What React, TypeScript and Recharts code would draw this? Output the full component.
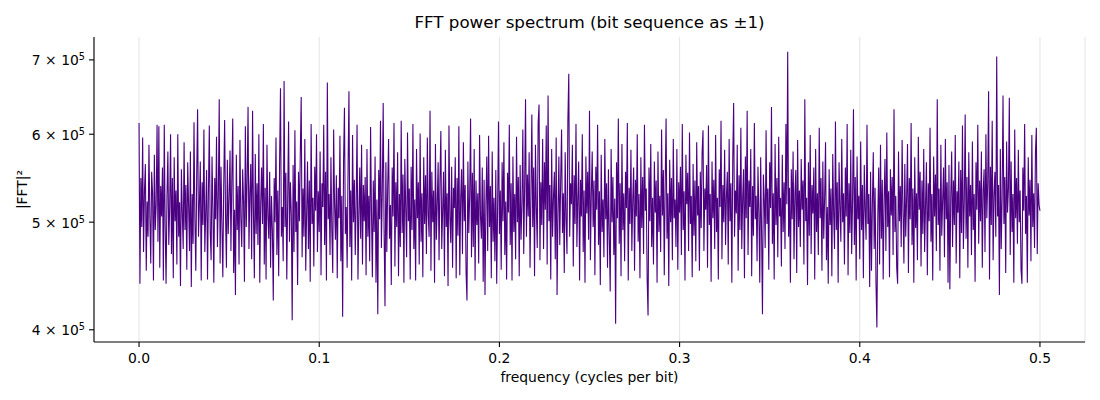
import React from 'react';
import { LineChart, Line, XAxis, YAxis, CartesianGrid } from 'recharts';

// Power values, in thousands (|FFT|² / 1000), one per frequency bin from 0 to 0.5
const POWER_K: number[] = [
  614,440,548,495,596,470,533,564,452,522,485,587,506,459,555,531,443,575,492,518,612,480,610,455,539,
  506,560,443,612,495,440,528,579,477,515,600,468,548,445,572,501,534,458,600,485,521,438,558,510,473,
  590,492,540,453,566,518,471,579,437,530,478,615,503,452,552,632,485,519,567,443,543,497,606,470,510,
  557,444,531,611,490,462,573,515,441,548,503,597,475,528,645,459,561,497,446,540,618,507,455,569,488,
  526,580,471,549,620,450,513,430,575,492,539,458,593,504,475,558,522,442,610,495,546,635,473,530,564,
  463,630,510,445,576,488,542,477,600,441,519,560,498,613,458,537,444,587,506,483,555,455,528,492,425,
  548,500,596,467,534,447,566,660,485,516,461,670,495,554,444,526,616,480,543,509,408,563,470,605,490,
  522,439,555,501,578,648,465,536,485,594,452,509,567,473,545,442,613,498,526,456,561,512,600,470,533,
  490,579,448,542,516,612,477,555,443,668,503,530,467,572,492,450,606,519,482,551,445,537,504,598,461,
  528,411,567,634,488,516,455,558,656,475,534,443,599,500,546,467,521,612,444,507,560,483,587,458,540,
  501,549,448,582,485,528,461,609,510,446,545,490,573,441,524,413,557,503,617,474,533,640,492,420,566,
  470,539,594,483,518,439,560,506,614,456,543,495,578,447,530,475,617,489,552,441,570,515,465,602,501,
  536,444,561,492,613,473,524,443,582,504,543,458,601,480,531,446,572,498,551,468,596,507,485,630,452,
  555,500,534,441,588,482,519,566,462,545,604,473,513,555,447,581,495,531,438,611,506,479,561,455,537,
  515,572,445,548,486,610,448,525,558,468,590,501,540,450,425,567,489,528,620,465,554,475,582,443,545,
  497,531,459,599,506,483,560,442,546,430,519,573,471,598,495,539,445,579,480,526,461,557,440,516,616,
  488,534,453,566,501,590,467,522,444,554,510,612,477,542,443,573,490,530,463,597,500,549,447,563,482,
  519,606,468,539,645,485,552,506,578,455,531,625,495,560,447,587,516,474,614,638,462,543,497,594,473,
  566,513,611,458,650,501,540,444,582,485,526,555,463,596,430,509,573,477,545,606,489,531,450,578,504,
  468,617,680,485,542,519,587,456,551,498,613,475,525,567,443,546,506,600,470,534,441,573,509,555,482,
  630,462,528,579,495,545,448,561,513,612,477,533,439,575,490,524,465,594,503,542,455,558,486,433,582,
  500,549,467,525,405,566,504,620,478,542,447,588,492,531,461,555,515,614,443,537,498,581,471,524,560,
  452,546,506,600,480,530,445,572,494,549,468,612,512,536,444,412,560,501,588,475,526,458,567,510,545,
  441,579,490,528,470,606,507,557,448,540,620,483,531,438,569,500,548,462,594,504,524,475,582,453,543,
  510,561,467,613,492,533,443,575,519,554,471,602,498,528,446,564,486,545,461,590,507,539,452,555,494,
  578,605,471,536,513,563,455,611,497,530,442,567,504,546,473,599,490,526,444,558,516,617,463,540,500,
  581,477,528,555,458,594,501,542,441,569,640,485,534,509,587,452,551,492,608,473,525,558,445,573,504,
  630,467,545,516,582,447,539,486,614,503,528,461,561,510,441,572,489,413,552,524,474,605,498,536,453,
  566,515,635,478,531,444,588,497,548,465,597,506,526,456,575,490,543,473,613,519,712,485,537,441,558,
  503,579,463,530,557,450,593,495,534,475,570,513,545,458,645,501,526,439,566,486,599,468,540,509,560,
  444,582,490,531,467,608,504,548,452,567,483,526,590,462,516,440,558,497,536,447,576,509,473,616,492,
  543,441,566,518,480,594,500,531,458,560,506,613,448,542,489,581,468,524,632,477,549,443,573,503,528,
  463,591,492,540,445,563,515,482,612,498,530,437,555,452,519,578,473,537,441,402,506,560,458,587,483,
  546,444,524,570,471,602,495,533,446,558,507,549,467,632,490,528,455,440,579,501,539,475,593,512,459,
  564,485,526,588,450,548,503,614,477,536,441,572,494,531,462,597,513,555,456,545,488,582,470,519,566,
  448,542,501,608,480,530,443,573,506,552,471,645,497,536,452,587,486,524,560,465,594,503,543,441,563,
  435,528,579,475,545,497,599,459,533,510,567,445,557,489,611,473,522,625,483,549,455,578,506,540,467,
  591,492,530,442,566,513,612,478,545,501,579,455,533,558,470,600,504,542,656,444,561,497,617,462,528,
  555,485,705,506,540,430,582,473,526,650,498,549,450,591,510,536,647,467,567,490,530,441,606,504,548,
  478,581,500,534,453,440,560,512,613,488,528,441,572,507,546,461,599,495,531,474,578,608,468,542,518,
  512,
];

const FREQ_MAX = 0.5; // Nyquist, cycles per bit
const X_TICKS = [0, 0.1, 0.2, 0.3, 0.4, 0.5];
const Y_TICKS = [400000, 500000, 600000, 700000];
const Y_TICK_MANTISSA = ['4', '5', '6', '7'];

const data = POWER_K.map((p, i) => ({
  f: (i * FREQ_MAX) / (POWER_K.length - 1),
  power: p * 1000,
}));

const FONT = '"DejaVu Sans", Verdana, sans-serif';

const YTick = (props: any) => {
  const { x, y, payload } = props;
  const idx = Y_TICKS.indexOf(payload.value);
  const m = idx >= 0 ? Y_TICK_MANTISSA[idx] : '';
  return (
    <text x={x} y={y + 5.5} textAnchor="end" fill="#000" fontSize={13.9} fontFamily={FONT}>
      <tspan>{m + ' × 10'}</tspan>
      <tspan dy={-5} fontSize={9.7}>5</tspan>
    </text>
  );
};

const XTick = (props: any) => {
  const { x, y, payload } = props;
  return (
    <text x={x} y={y + 12} textAnchor="middle" fill="#000" fontSize={13.9} fontFamily={FONT}>
      {Number(payload.value).toFixed(1)}
    </text>
  );
};

export default function App() {
  return (
    <div style={{ position: 'absolute', left: 0, top: 0, width: 1100, height: 400, background: '#fff' }}>
      <LineChart
        width={1100}
        height={400}
        data={data}
        margin={{ top: 37, right: 15, bottom: 0, left: 0 }}
      >
        <CartesianGrid horizontal={false} stroke="#e4e4e4" strokeWidth={1} />
        <XAxis
          dataKey="f"
          type="number"
          domain={[-0.025, 0.525]}
          ticks={X_TICKS}
          allowDataOverflow
          height={58}
          tickSize={5}
          tickMargin={4}
          tick={<XTick />}
          axisLine={{ stroke: '#000', strokeWidth: 1.1 }}
          tickLine={{ stroke: '#000', strokeWidth: 1.1 }}
        />
        <YAxis
          type="number"
          scale="log"
          domain={[390000, 734000]}
          ticks={Y_TICKS}
          allowDataOverflow
          width={94}
          tickSize={5}
          tickMargin={4}
          tick={<YTick />}
          axisLine={{ stroke: '#000', strokeWidth: 1.1 }}
          tickLine={{ stroke: '#000', strokeWidth: 1.1 }}
        />
        <Line
          type="linear"
          dataKey="power"
          stroke="#4B0082"
          strokeWidth={1.1}
          dot={false}
          activeDot={false}
          isAnimationActive={false}
        />
      </LineChart>
      <svg
        width={1100}
        height={400}
        style={{ position: 'absolute', left: 0, top: 0, pointerEvents: 'none' }}
      >
        <text x={589.5} y={28} textAnchor="middle" fontSize={16.7} fontFamily={FONT} fill="#000">
          FFT power spectrum (bit sequence as ±1)
        </text>
        <text x={589.5} y={382} textAnchor="middle" fontSize={13.9} fontFamily={FONT} fill="#000">
          frequency (cycles per bit)
        </text>
        <text
          x={27}
          y={189.5}
          textAnchor="middle"
          fontSize={13.9}
          fontFamily={FONT}
          fill="#000"
          transform="rotate(-90 27 189.5)"
        >
          |FFT|²
        </text>
      </svg>
    </div>
  );
}
